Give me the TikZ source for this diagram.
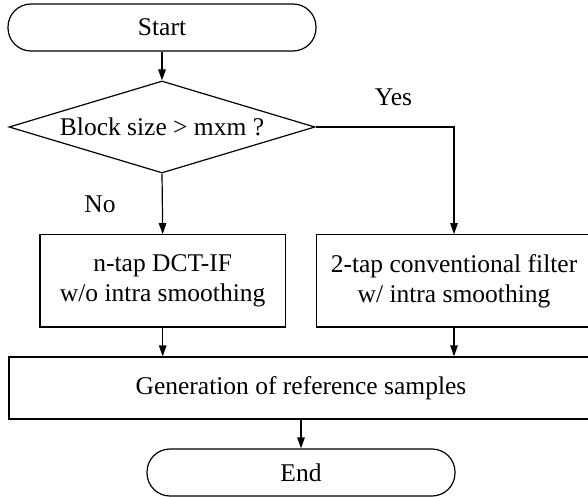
\documentclass[tikz,border=0pt]{standalone}
\usepackage{fontspec}
\setmainfont{Liberation Serif}
\usetikzlibrary{shapes.geometric,arrows.meta}
\begin{document}
\begin{tikzpicture}[x=1pt,y=-1pt,
  every node/.style={font=\fontsize{25.5}{30}\selectfont, inner sep=0pt},
  line/.style={line width=1.2pt},
  arr/.style={line/.try, line width=1.2pt, -{Triangle[length=11pt,width=7.5pt]}},
  term/.style={draw, line width=1.2pt, rectangle, rounded corners=23pt, minimum width=308pt, minimum height=47pt},
  proc/.style={draw, line width=1.2pt, rectangle, align=center},
  dec/.style={draw, line width=1.2pt, diamond, aspect=3.33, minimum width=306pt, minimum height=92pt}
]
\useasboundingbox (0,0) rectangle (588,497);
\clip (0,0) rectangle (588,497);
\node[term] (start) at (162,27.5) {Start};
\node[dec] (cond) at (162,127) {Block size > mxm ?};
\node[proc, minimum width=245.5pt, minimum height=92.3pt] (left) at (162.7,280.9) {n-tap DCT-IF\\w/o intra smoothing};
\node[proc, minimum width=274.6pt, minimum height=92.3pt] (right) at (454,280.9) {2-tap conventional filter\\w/ intra smoothing};
\node[proc, minimum width=584pt, minimum height=62pt] (gen) at (301,388) {Generation of reference samples};
\node[term] (end) at (301,472.5) {End};
\node (yes) at (393.5,97) {Yes};
\node (no) at (100,204) {No};
\draw[arr] (start) -- (cond);
\draw[arr] (cond.south) -- (left.north);
\draw[arr] (cond.east) -| (right.north);
\draw[arr] (left.south) -- (left.south |- gen.north);
\draw[arr] (right.south) -- (right.south |- gen.north);
\draw[arr] (gen.south) -- (end.north);
\end{tikzpicture}
\end{document}
